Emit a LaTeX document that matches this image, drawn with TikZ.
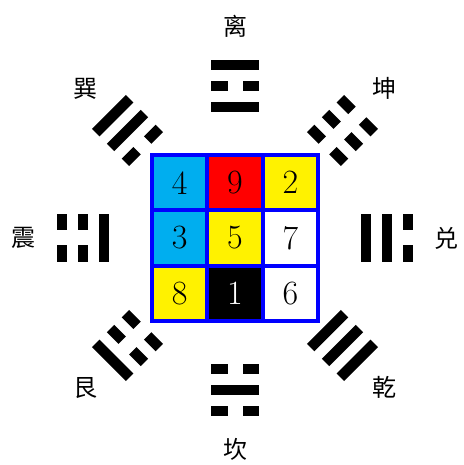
\documentclass[tikz,border=0pt]{standalone}
\usepackage{fontspec}
\newfontfamily\cjk{Noto Sans CJK SC}
\usepackage{xcolor}
\usetikzlibrary{positioning}
\definecolor{cellcyan}{RGB}{0,174,239}
\definecolor{cellyellow}{RGB}{255,242,0}

\begin{document}
\begin{tikzpicture}[x=1pt,y=1pt,
    cell/.style={minimum size=55.33pt,inner sep=0pt,outer sep=0pt,
      font=\fontsize{34}{34}\selectfont},
    gridline/.style={draw=blue,line width=4pt},
    bar/.style={fill=black},
    gualabel/.style={font=\cjk\fontsize{24}{24}\selectfont,inner sep=0pt}
  ]
    \useasboundingbox (-235,-227) rectangle (228,238);
    % Lo Shu square
    \node[cell,fill=cellyellow] (c5) at (0,0) {5};
    \node[cell,fill=cellcyan,above left=0pt of c5] (c4) {4};
    \node[cell,fill=red,above=0pt of c5] (c9) {9};
    \node[cell,fill=cellyellow,above right=0pt of c5] (c2) {2};
    \node[cell,fill=cellcyan,left=0pt of c5] (c3) {3};
    \node[cell,fill=white,right=0pt of c5] (c7) {7};
    \node[cell,fill=cellyellow,below left=0pt of c5] (c8) {8};
    \node[cell,fill=black,text=white,below=0pt of c5] (c1) {1};
    \node[cell,fill=white,below right=0pt of c5] (c6) {6};
    \draw[gridline] (c4.north west) rectangle (c6.south east);
    \draw[gridline] (c4.north east) -- (c8.south east);
    \draw[gridline] (c9.north east) -- (c1.south east);
    \draw[gridline] (c4.south west) -- (c2.south east);
    \draw[gridline] (c3.south west) -- (c7.south east);
    % trigrams, bottom line towards the square
    \foreach \ang/\ba/\bb/\bc in {90/1/0/1,45/0/0/0,0/1/1/0,-45/1/1/1,
        -90/0/1/0,-135/0/0/1,180/1/0/0,135/0/1/1} {
      \begin{scope}[rotate=\ang-90]
        \foreach \bit [count=\k from 0] in {\ba,\bb,\bc} {
          \pgfmathsetmacro\rad{131+21*\k}
          \ifnum\bit=1
            \fill[bar] (-24,\rad-5.25) rectangle (24,\rad+5.25);
          \else
            \fill[bar] (-24,\rad-5.25) rectangle (-7.5,\rad+5.25);
            \fill[bar] (7.5,\rad-5.25) rectangle (24,\rad+5.25);
          \fi
        }
      \end{scope}
    }
    \foreach \ang/\name [count=\i] in {90/离,45/坤,0/兑,-45/乾,-90/坎,
        -135/艮,180/震,135/巽}
      \node[gualabel] (gua\i) at (\ang:211.5) {\name};
\end{tikzpicture}
\end{document}
